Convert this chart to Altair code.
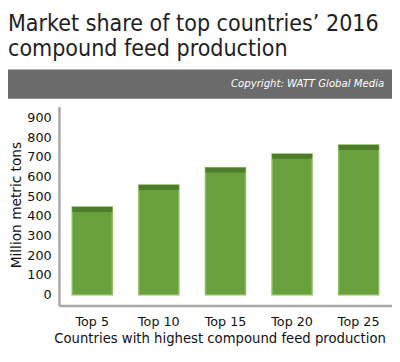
import altair as alt
import pandas as pd

categories = ["Top 5", "Top 10", "Top 15", "Top 20", "Top 25"]
values = [445, 557, 645, 715, 760]
y_ticks = [0, 100, 200, 300, 400, 500, 600, 700, 800, 900]

df = pd.DataFrame({"group": categories, "value": values})

TITLE_FONT = "DejaVu Sans Condensed"
FONT = "DejaVu Sans"

x_axis = alt.Axis(
    title="Countries with highest compound feed production",
    labelAngle=0,
    labelPadding=10,
    titleX=164,
    titleY=34,
    titleFontSize=13.5,
    titleBaseline="middle",
    titleAlign="center",
)
y_axis = alt.Axis(
    title="Million metric tons",
    values=y_ticks,
    labelOverlap=False,
    labelPadding=8,
    titleX=-43,
    titleY=100,
    titleAngle=-90,
    titleBaseline="middle",
    titleAlign="center",
)
x_scale = alt.Scale(paddingInner=0.4, paddingOuter=0.2)
y_scale = alt.Scale(domain=[-55, 955], nice=False, zero=False)

base = alt.Chart(df)

bars = base.mark_bar(color="#68a03e", stroke="#8bbd5f", strokeWidth=1.5).encode(
    x=alt.X("group:N", sort=categories, scale=x_scale, axis=x_axis),
    y=alt.Y("value:Q", scale=y_scale, axis=y_axis),
    y2=alt.datum(0),
)

caps = base.transform_calculate(cap_lo="datum.value - 25").mark_bar(
    color="#4e7d2a"
).encode(
    x=alt.X("group:N", sort=categories, scale=x_scale, axis=x_axis),
    y=alt.Y("value:Q", scale=y_scale, axis=y_axis),
    y2="cap_lo:Q",
)

band = alt.Chart(pd.DataFrame({"k": [0]})).mark_rect(color="#6b6b6b").encode(
    x=alt.value(-52), x2=alt.value(340), y=alt.value(-38), y2=alt.value(-8)
)
copyright_text = alt.Chart(pd.DataFrame({"t": ["Copyright: WATT Global Media"]})).mark_text(
    align="right", baseline="middle", color="white", fontStyle="italic",
    fontSize=11.5, font=TITLE_FONT,
).encode(text="t:N", x=alt.value(332), y=alt.value(-23))

chart = alt.layer(bars, caps, band, copyright_text).properties(
    width=340,
    height=203,
    autosize=alt.AutoSizeParams(type="none"),
    padding={"left": 52, "top": 97, "right": 0, "bottom": 54},
    title=alt.TitleParams(
        text=["Market share of top countries’ 2016", "compound feed production"],
        anchor="start",
        frame="group",
        fontSize=23.5,
        lineHeight=26,
        font=TITLE_FONT,
        fontWeight="normal",
        color="#1e1e1e",
        dx=-52,
        dy=-5,
    ),
).configure_view(stroke=None).configure_axis(
    domainColor="#a8a8a8",
    domainWidth=2.5,
    ticks=False,
    grid=False,
    labelFont=FONT,
    labelFontSize=13,
    labelColor="#111111",
    titleFont=FONT,
    titleFontSize=14,
    titleFontWeight="normal",
    titleColor="#111111",
)

chart.save("out.html", embed_options={"renderer": "svg", "actions": False})
